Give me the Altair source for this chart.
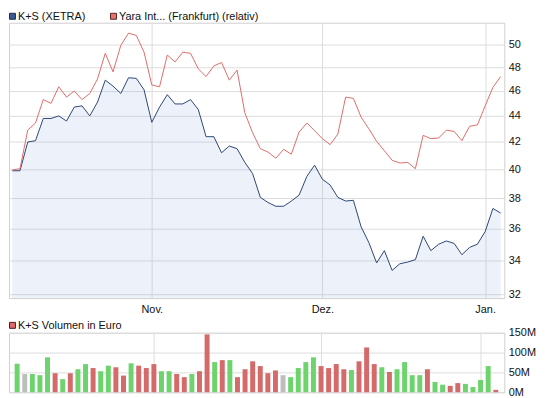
import altair as alt
import pandas as pd

# ---- data -------------------------------------------------------------
dates = [d.strftime("%Y-%m-%d") for d in pd.bdate_range("2011-10-06", "2012-01-04")
         if d.strftime("%Y-%m-%d") != "2011-12-26"]

ks_price = [39.9, 39.9, 42.0, 42.1, 43.8, 43.8, 44.0, 43.6, 44.7, 44.8,
            44.0, 45.1, 46.9, 46.4, 45.8, 47.1, 47.05, 46.1, 43.5, 44.7,
            45.7, 44.95, 44.95, 45.3, 44.5, 42.4, 42.4, 41.2, 41.7, 41.5,
            40.5, 39.7, 38.05, 37.7, 37.45, 37.45, 37.8, 38.2, 39.5, 40.3,
            39.3, 38.9, 38.05, 37.8, 37.85, 36.1, 35.1, 33.85, 34.6, 33.4,
            33.8, 33.9, 34.05, 35.5, 34.6, 35.0, 35.2, 35.05, 34.35, 34.8,
            35.0, 35.8, 37.3, 37.0]

yara_rel = [39.95, 40.05, 42.9, 43.45, 45.3, 45.0, 46.35, 45.5, 46.0, 45.3,
            45.8, 47.0, 49.2, 47.6, 49.9, 51.0, 50.8, 49.3, 46.5, 46.35,
            49.05, 48.45, 49.3, 49.2, 47.85, 47.2, 48.1, 48.4, 46.9, 47.75,
            44.25, 42.7, 41.5, 41.25, 40.8, 41.45, 41.1, 42.75, 43.45, 42.85,
            42.25, 41.8, 42.6, 45.5, 45.4, 43.9, 43.0, 42.05, 41.35, 40.65,
            40.45, 40.5, 40.05, 42.5, 42.25, 42.3, 42.9, 42.8, 42.1, 43.2,
            43.3, 44.8, 46.3, 47.2]

volume_m = [72, 46, 46, 43, 88, 48, 33, 48, 58, 71,
            61, 53, 67, 63, 42, 73, 67, 61, 71, 53,
            53, 46, 38, 46, 53, 146, 76, 81, 81, 38,
            58, 78, 66, 48, 55, 43, 38, 61, 76, 88,
            66, 61, 71, 58, 56, 78, 113, 71, 63, 51,
            58, 76, 43, 43, 58, 26, 19, 16, 23, 21,
            13, 31, 66, 6]

direction = ["up", "flat", "up", "up", "up", "down", "up", "down", "up", "up",
             "down", "up", "up", "down", "down", "up", "down", "down", "down", "up",
             "up", "down", "down", "up", "down", "down", "up", "down", "up", "down",
             "down", "down", "down", "down", "down", "flat", "up", "up", "up", "up",
             "down", "down", "down", "down", "up", "down", "down", "down", "up", "down",
             "up", "up", "up", "up", "down", "up", "up", "down", "down", "up",
             "up", "up", "up", "down"]

month_names = {"11": "Nov.", "12": "Dez.", "01": "Jan."}
legend_labels = ["K+S (XETRA)", "Yara Int... (Frankfurt) (relativ)", "K+S Volumen in Euro"]
price_ticks = [32, 34, 36, 38, 40, 42, 44, 46, 48, 50]
vol_ticks = [0, 50e6, 100e6, 150e6]

# ---- derived tables ---------------------------------------------------
n = len(dates)
idx = list(range(n))
month_idx = []
month_lbl = []
for i in range(1, n):
    if dates[i][5:7] != dates[i - 1][5:7]:
        month_idx.append(i)
        month_lbl.append(month_names[dates[i][5:7]])
label_expr = " : ".join(f"datum.value == {i} ? '{l}'" for i, l in zip(month_idx, month_lbl)) + " : ''"

price_df = pd.DataFrame({"idx": idx * 2, "date": dates * 2,
                         "value": ks_price + yara_rel,
                         "series": ["K+S"] * n + ["Yara"] * n})
ks_df = pd.DataFrame({"idx": idx, "date": dates, "value": ks_price})
vol_df = pd.DataFrame({"idx": idx, "date": dates,
                       "vol": [v * 1e6 for v in volume_m], "dir": direction})

FONT = "Liberation Sans"
PH = 278
YMIN, YMAX = 31.79, 51.96
xscale = alt.Scale(domain=[-0.42, 63.47], nice=False, zero=False)
yscale = alt.Scale(type="log", domain=[YMIN, YMAX], nice=False)

x_axis = alt.Axis(values=month_idx, labelExpr=label_expr, grid=True, ticks=False,
                  domain=False, labelPadding=6, labelFlush=False)
y_axis = alt.Axis(orient="right", values=price_ticks, grid=True, ticks=False,
                  domain=False, labelPadding=4)
x_price = alt.X("idx:Q", scale=xscale, title=None, axis=x_axis)
y_price = alt.Y("value:Q", scale=yscale, title=None, axis=y_axis)

area = alt.Chart(ks_df).mark_area(fill="#8FA6DC", fillOpacity=0.16, stroke=None).encode(
    x=x_price, y=y_price, y2=alt.datum(YMIN),
)
lines = alt.Chart(price_df).mark_line(strokeWidth=1, interpolate="linear").encode(
    x=x_price, y=y_price,
    stroke=alt.Stroke("series:N", scale=alt.Scale(domain=["K+S", "Yara"],
                                                   range=["#2C4676", "#E06B6B"]), legend=None),
)

one = pd.DataFrame({"a": [0]})
def legend_item(x0, ytop, fill, stroke, text):
    sq = alt.Chart(one).mark_rect(fill=fill, stroke=stroke, strokeWidth=1).encode(
        x=alt.value(x0 + 0.5), x2=alt.value(x0 + 6.5),
        y=alt.value(ytop + 0.5), y2=alt.value(ytop + 6.5))
    tx = alt.Chart(one).mark_text(align="left", baseline="middle", font=FONT,
                                  fontSize=11, color="#111111").encode(
        x=alt.value(x0 + 9), y=alt.value(ytop + 3.8), text=alt.value(text))
    return [sq, tx]

price = alt.layer(
    area, lines,
    *legend_item(0, -10, "#3B5A94", "#1C2B4A", legend_labels[0]),
    *legend_item(102, -10, "#E87272", "#5A2222", legend_labels[1]),
).properties(width=500, height=PH)

bars = alt.Chart(vol_df).mark_bar(size=5).encode(
    x=alt.X("idx:Q", scale=xscale, title=None,
            axis=alt.Axis(values=month_idx, labels=False, grid=True, ticks=False, domain=False)),
    y=alt.Y("vol:Q", scale=alt.Scale(domain=[0, 150e6], nice=False), title=None,
            axis=alt.Axis(orient="right", values=vol_ticks, grid=True, ticks=False, domain=False,
                          labelPadding=4, labelExpr="round(datum.value / 1000000) + 'M'")),
    fill=alt.Fill("dir:N", scale=alt.Scale(domain=["up", "down", "flat"],
                                           range=["#6DD36D", "#D46A6A", "#BEBEBE"]), legend=None),
)
volume = alt.layer(
    bars, *legend_item(0, -11, "#E06A6A", "#4A1A1A", legend_labels[2])
).properties(width=500, height=60)

chart = alt.vconcat(price, volume, spacing=35, bounds="flush").resolve_scale(
    x="independent", y="independent", fill="independent", stroke="independent"
).properties(padding=0).configure_view(
    stroke="#CFCFCF", strokeWidth=1
).configure_axis(
    labelFont=FONT, labelFontSize=11, labelColor="#111111", gridColor="#DDDDDD", gridWidth=1
)

chart.save("out.html", embed_options={"renderer": "svg", "actions": False})
